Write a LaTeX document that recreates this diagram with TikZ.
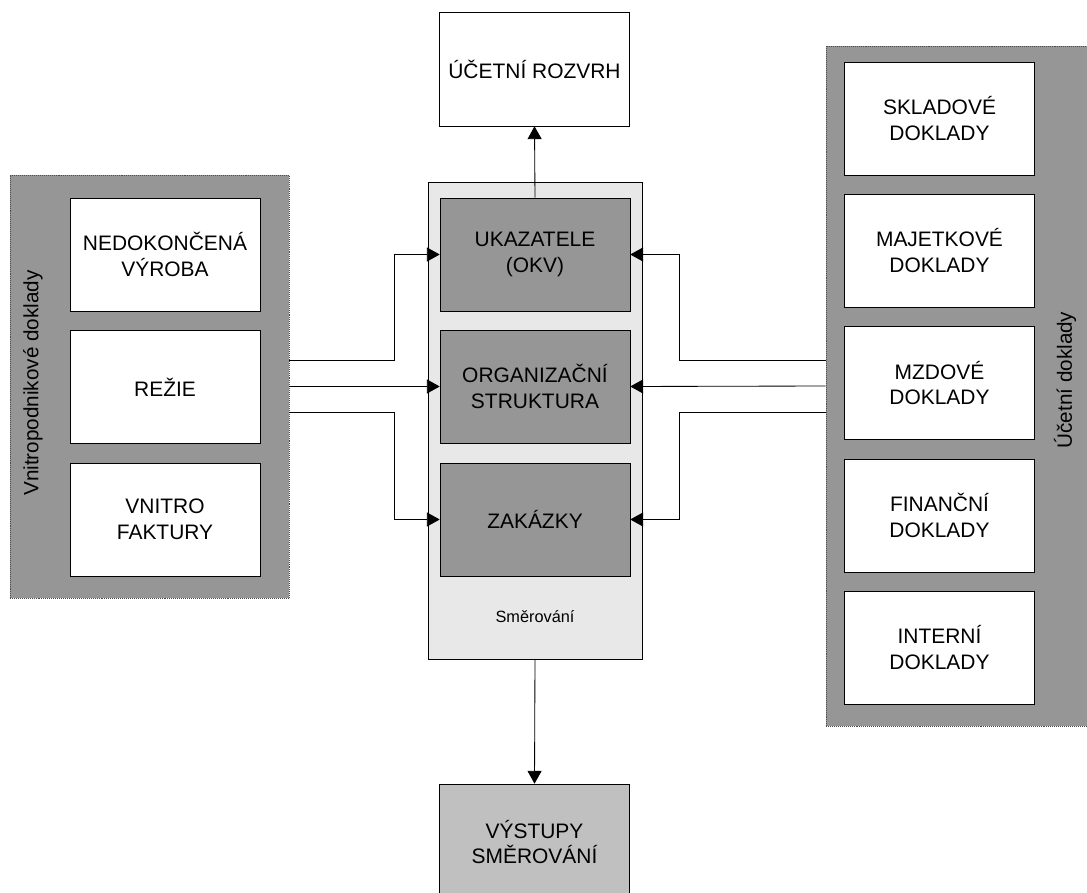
\documentclass[tikz,border=0pt]{standalone}
\usepackage{fontspec}
\setmainfont{Liberation Sans}
\usetikzlibrary{arrows.meta,calc}
\definecolor{tmavaseda}{HTML}{969696}
\definecolor{svetlaseda}{HTML}{E8E8E8}
\definecolor{stredniseda}{HTML}{C0C0C0}
\tikzset{
  blok/.style={draw, thin, minimum width=4.75cm, minimum height=2.825cm, align=center, inner sep=0pt,
    font=\fontsize{14.9}{18.4}\selectfont},
  skupina/.style={draw=black!70, densely dotted, fill=tmavaseda, inner sep=0pt},
  sipka/.style={-{Triangle[length=0.32cm,width=0.35cm]}, line width=0.6pt}
}
\begin{document}
\begin{tikzpicture}[x=0.025cm, y=-0.025cm]
      \useasboundingbox (0, 0) rectangle (1087, 893);
      \node [skupina, minimum width=6.975cm, minimum height=10.575cm] (vnitro) at (149.5, 386.5) {};
      \node [rotate=90, font=\fontsize{14.7}{17}\selectfont] (vnitrolbl) at (33, 383) {Vnitropodnikové doklady};
      \node [blok, fill=white] (nedok) at (165, 254.5) {NEDOKONČENÁ\\VÝROBA};
      \node [blok, fill=white] (rezie) at (165, 387) {REŽIE};
      \node [blok, fill=white] (faktury) at (165, 519.5) {VNITRO\\FAKTURY};
      \node [skupina, minimum width=6.75cm, minimum height=17cm] (ucetni) at (961, 386) {};
      \node [rotate=90, font=\fontsize{14.7}{17}\selectfont] (ucetnilbl) at (1065, 380) {Účetní doklady};
      \node [blok, fill=white] (sklad) at (939.5, 118.5) {SKLADOVÉ\\DOKLADY};
      \node [blok, fill=white] (majetek) at (939.5, 250.5) {MAJETKOVÉ\\DOKLADY};
      \node [blok, fill=white] (mzdy) at (939.5, 383) {MZDOVÉ\\DOKLADY};
      \node [blok, fill=white] (finance) at (939.5, 515.5) {FINANČNÍ\\DOKLADY};
      \node [blok, fill=white] (interni) at (939.5, 647.5) {INTERNÍ\\DOKLADY};
      \node [draw, thin, fill=svetlaseda, minimum width=5.35cm, minimum height=11.925cm] (smer) at (535, 420.5) {};
      \node [font=\fontsize{11.6}{14}\selectfont] (smerlbl) at (535, 617) {Směrování};
      \node [blok, fill=tmavaseda] (ukaz) at (535, 254.5) {UKAZATELE\\(OKV)};
      \node [blok, fill=tmavaseda] (org) at (535, 386.5) {ORGANIZAČNÍ\\STRUKTURA};
      \node [blok, fill=tmavaseda] (zakazky) at (535, 519.5) {ZAKÁZKY};
      \node [blok, fill=white, minimum height=2.85cm] (rozvrh) at (534.5, 69) {ÚČETNÍ ROZVRH};
      \node [blok, fill=stredniseda, minimum height=2.9cm] (vystupy) at (534.5, 842) {VÝSTUPY\\SMĚROVÁNÍ};
      \draw [sipka] (ukaz.north) -- (rozvrh.south);
      \draw [sipka] (smer.south) -- (vystupy.north);
      \draw [sipka] ($(vnitro.east)+(0, -26)$) -| ($(ukaz.west)+(-45, 0)$) -- (ukaz.west);
      \draw [sipka] (vnitro.east) -- (org.west);
      \draw [sipka] ($(vnitro.east)+(0, 26)$) -| ($(zakazky.west)+(-45, 0)$) -- (zakazky.west);
      \draw [sipka] ($(ucetni.west)+(0, -26)$) -| ($(ukaz.east)+(49, 0)$) -- (ukaz.east);
      \draw [sipka] (ucetni.west) -- (org.east);
      \draw [sipka] ($(ucetni.west)+(0, 26)$) -| ($(zakazky.east)+(49, 0)$) -- (zakazky.east);
    \end{tikzpicture}
\end{document}
